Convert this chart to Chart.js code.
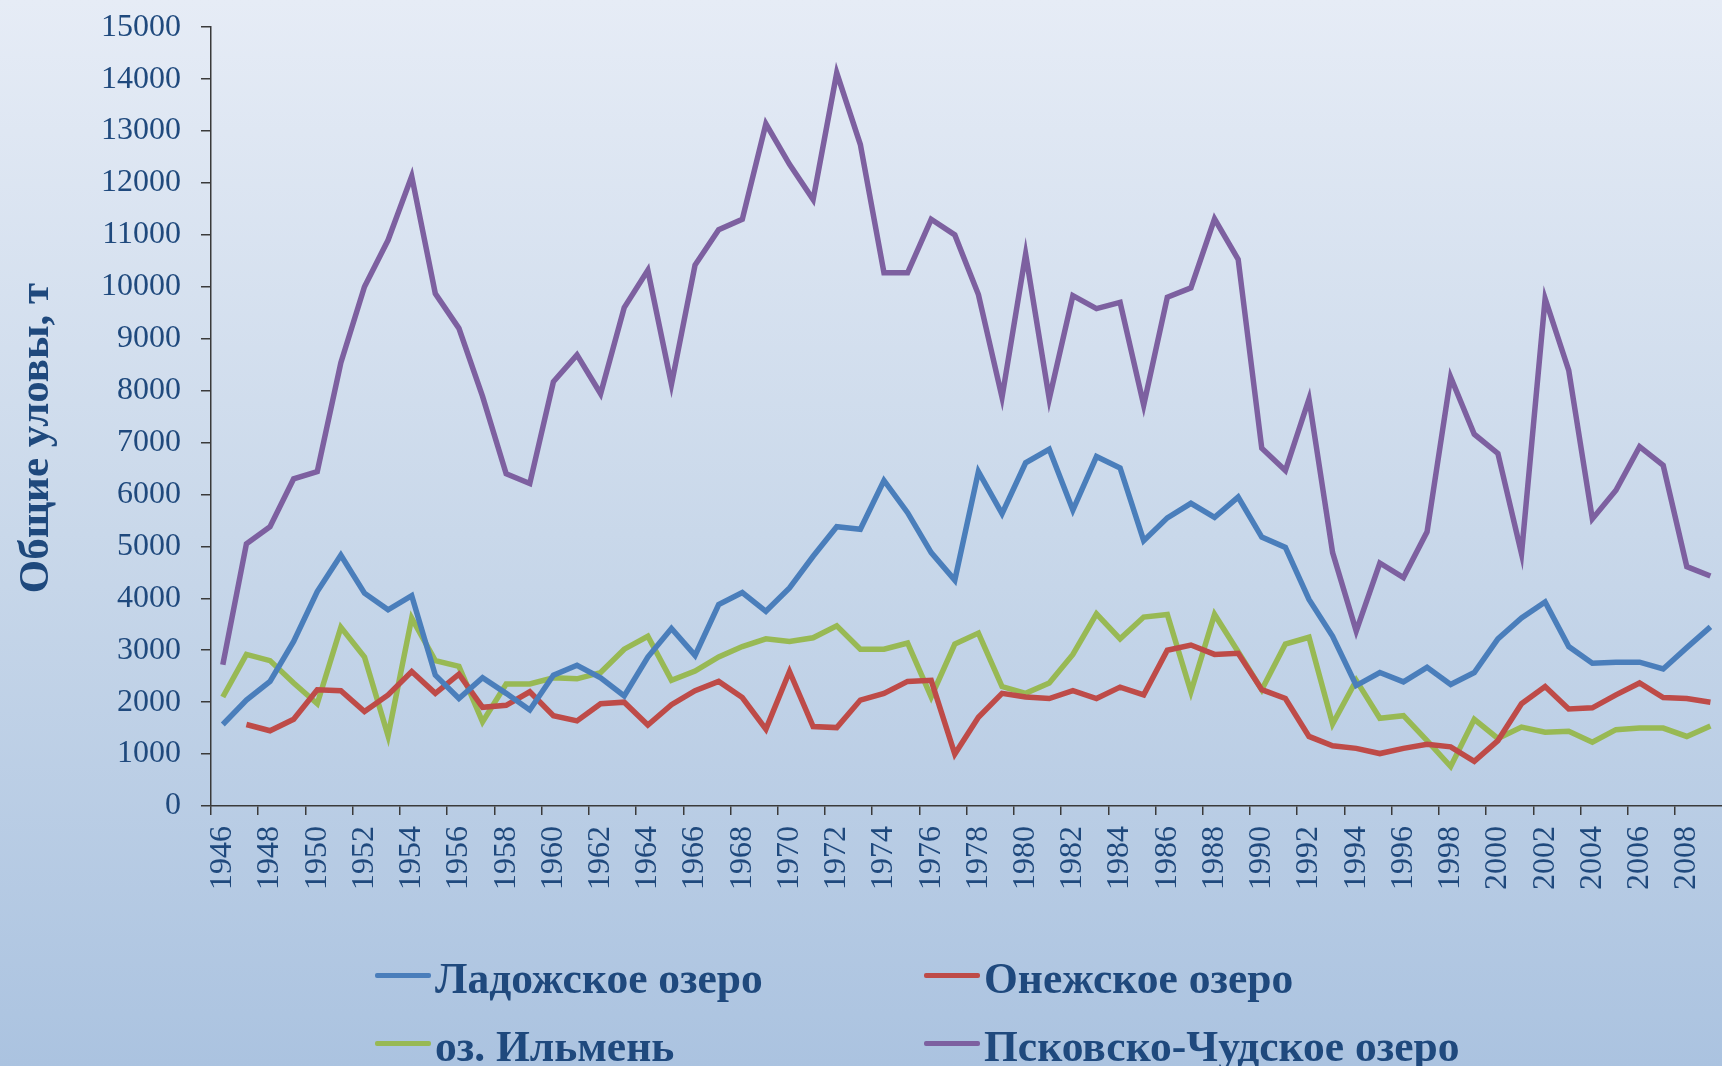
<!DOCTYPE html>
<html>
<head>
<meta charset="utf-8">
<script src="https://cdn.jsdelivr.net/npm/chart.js@4.4.1/dist/chart.umd.min.js"></script>
<style>
  html, body { margin: 0; padding: 0; overflow: hidden; }
  body {
    width: 1722px; height: 1066px; position: relative;
    background: linear-gradient(to bottom, #e6ecf6 0%, #c9d8ea 50%, #abc3e0 100%);
    font-family: "Liberation Serif", "Times New Roman", serif;
  }
  #wrap { position: absolute; left: 0; top: -12px; width: 1760px; height: 912px; }
  #legend { position: absolute; left: 0; top: 0; width: 1722px; height: 1066px; pointer-events: none; }
  .item { position: absolute; font: bold 43.5px "Liberation Serif", serif; line-height: 42px; color: #1F497D; white-space: nowrap; }
  .swatch { position: absolute; height: 5px; width: 56px; border-radius: 2px; }
  #ytitle {
    position: absolute; left: 33px; top: 438px;
    transform: translate(-50%, -50%) rotate(-90deg);
    font: bold 43px "Liberation Serif", serif; color: #1F497D; white-space: nowrap;
  }
</style>
</head>
<body>
<div id="wrap"><canvas id="catchChart" width="1760" height="912"></canvas></div>
<div id="ytitle"></div>
<div id="legend"></div>
<script>
// годы и уловы, т
const years = [];
for (let y = 1946; y <= 2009; y++) years.push(String(y));

const ladoga = [1570, 2040, 2400, 3170, 4130, 4830, 4100, 3780, 4050, 2520,
  2070, 2470, 2170, 1850, 2520, 2710, 2470, 2120, 2870, 3420,
  2900, 3880, 4110, 3750, 4200, 4810, 5380, 5330, 6270, 5650,
  4880, 4350, 6440, 5630, 6610, 6870, 5700, 6730, 6510, 5110,
  5550, 5830, 5560, 5950, 5180, 4980, 3980, 3270, 2320, 2570,
  2390, 2670, 2340, 2570, 3220, 3620, 3930, 3070, 2750, 2770,
  2770, 2640, 3050, 3450];

const onega = [null, 1570, 1450, 1670, 2240, 2220, 1820, 2140, 2590, 2170,
  2540, 1900, 1940, 2200, 1740, 1640, 1970, 2000, 1560, 1950,
  2220, 2400, 2090, 1480, 2590, 1530, 1510, 2040, 2170, 2400,
  2420, 1000, 1710, 2170, 2100, 2070, 2220, 2070, 2290, 2140,
  3000, 3100, 2920, 2940, 2240, 2070, 1340, 1160, 1110, 1010,
  1110, 1190, 1140, 860, 1260, 1970, 2300, 1870, 1890, 2140,
  2370, 2090, 2070, 2000];

const ilmen = [2100, 2920, 2800, 2370, 1970, 3440, 2870, 1350, 3620, 2800,
  2690, 1620, 2350, 2350, 2470, 2450, 2570, 3020, 3270, 2420,
  2600, 2870, 3070, 3220, 3170, 3240, 3470, 3020, 3020, 3140,
  2100, 3120, 3330, 2300, 2170, 2370, 2920, 3700, 3220, 3640,
  3690, 2200, 3690, 2970, 2240, 3120, 3250, 1580, 2420, 1690,
  1740, 1260, 760, 1670, 1300, 1520, 1420, 1440, 1230, 1470,
  1500, 1500, 1340, 1540];

const pskov = [2720, 5050, 5380, 6300, 6440, 8540, 10000, 10900, 12130, 9870,
  9200, 7890, 6400, 6210, 8170, 8690, 7940, 9600, 10320, 8120,
  10420, 11100, 11300, 13140, 12360, 11680, 14120, 12740, 10270, 10270,
  11300, 11000, 9850, 7870, 10630, 7840, 9830, 9580, 9700, 7720,
  9800, 9980, 11310, 10530, 6890, 6460, 7840, 4880, 3370, 4680,
  4400, 5280, 8260, 7160, 6790, 4860, 9770, 8390, 5530, 6080,
  6920, 6560, 4610, 4430];

const seriesNames = ['Ладожское озеро', 'Онежское озеро', 'оз. Ильмень', 'Псковско-Чудское озеро'];
const seriesColors = ['#4A7EBB', '#BE4B48', '#98B954', '#7D60A0'];
const yTitle = 'Общие уловы, т';

const textColor = '#1F497D';
const axisColor = '#3a3a3a';

document.getElementById('ytitle').textContent = yTitle;

const ctx = document.getElementById('catchChart').getContext('2d');
const chart = new Chart(ctx, {
    type: 'line',
    data: {
        labels: years,
        datasets: [ladoga, onega, ilmen, pskov].map((d, i) => ({
            label: seriesNames[i],
            data: d,
            borderColor: seriesColors[i],
            backgroundColor: seriesColors[i],
            borderWidth: 5.5,
            pointRadius: 0,
            tension: 0,
            spanGaps: false
        }))
    },
    options: {
        responsive: false,
        animation: false,
        layout: { padding: { top: 12, right: 24, bottom: 0, left: 0 } },
        plugins: {
            legend: { display: false },
            tooltip: { enabled: false }
        },
        scales: {
            x: {
                offset: true,
                grid: {
                    offset: true,
                    drawOnChartArea: false,
                    tickLength: 9,
                    lineWidth: 1.5,
                    color: c => (c.index % 2 === 0 ? axisColor : 'rgba(0,0,0,0)')
                },
                border: { color: axisColor, width: 1.5 },
                ticks: {
                    autoSkip: false,
                    minRotation: 90,
                    maxRotation: 90,
                    padding: 11,
                    color: textColor,
                    font: { family: '"Liberation Serif", serif', size: 32 },
                    callback: (v, i) => (i % 2 === 0 ? years[i] : '')
                },
                afterFit: s => { s.height = 94; }
            },
            y: {
                min: 0,
                max: 15000,
                grid: {
                    drawOnChartArea: false,
                    tickLength: 10,
                    lineWidth: 1.5,
                    color: axisColor
                },
                border: { color: axisColor, width: 1.5 },
                ticks: {
                    stepSize: 1000,
                    padding: 20,
                    color: textColor,
                    font: { family: '"Liberation Serif", serif', size: 32 },
                    callback: v => String(v)
                },
                afterFit: s => { s.width = 211; }
            }
        }
    }
});

// легенда 2x2 под графиком
const legendPos = [
    { x: 375, row: 0 }, { x: 924, row: 0 },
    { x: 375, row: 1 }, { x: 924, row: 1 }
];
const legendEl = document.getElementById('legend');
chart.data.datasets.forEach((ds, i) => {
    const p = legendPos[i];
    const lineY = 975 + p.row * 68;
    const sw = document.createElement('div');
    sw.className = 'swatch';
    sw.style.left = p.x + 'px';
    sw.style.top = (lineY - 2.5) + 'px';
    sw.style.background = ds.borderColor;
    legendEl.appendChild(sw);
    const t = document.createElement('div');
    t.className = 'item';
    t.style.left = (p.x + 60) + 'px';
    t.style.top = (lineY - 18) + 'px';
    t.textContent = ds.label;
    legendEl.appendChild(t);
});
</script>
</body>
</html>
